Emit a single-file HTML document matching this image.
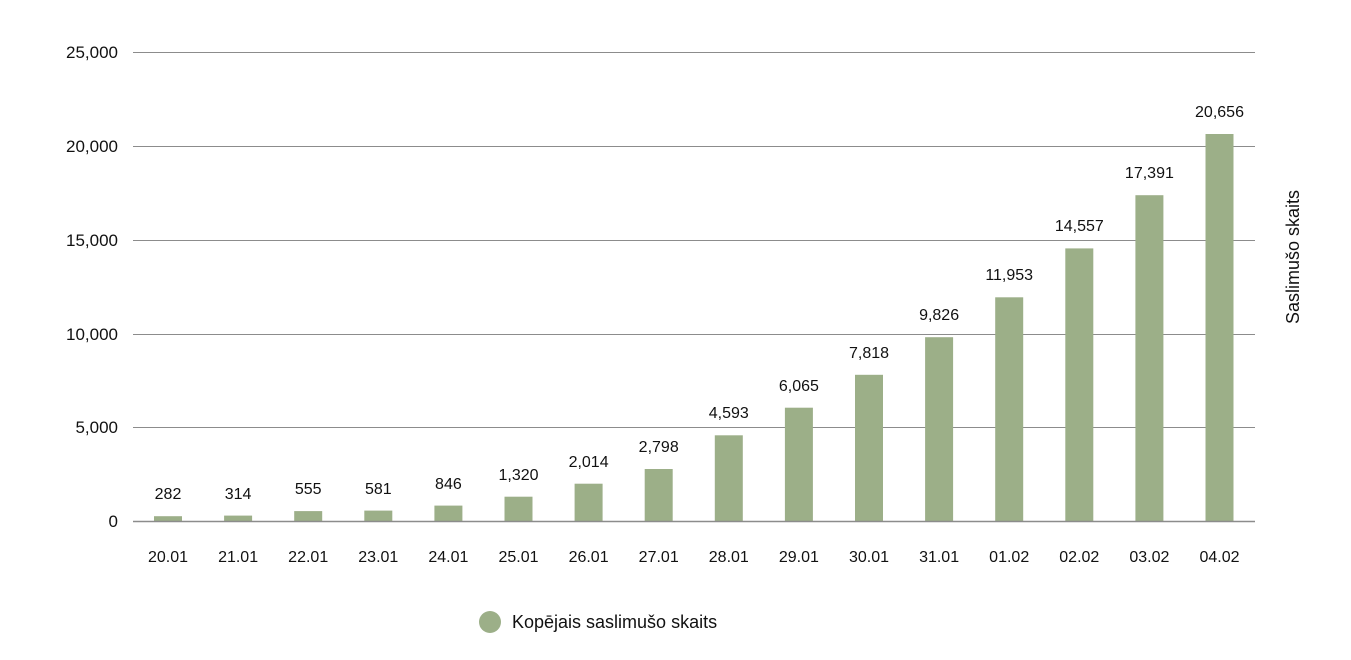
<!DOCTYPE html>
<html><head><meta charset="utf-8"><style>
body{margin:0;background:#fff;}
svg{display:block;font-family:"Liberation Sans",sans-serif;}
</style></head><body>
<svg width="1351" height="660" viewBox="0 0 1351 660">
<g stroke="#8c8c8c" stroke-width="1">
<line x1="133" y1="52.5" x2="1255" y2="52.5"/>
<line x1="133" y1="146.5" x2="1255" y2="146.5"/>
<line x1="133" y1="240.5" x2="1255" y2="240.5"/>
<line x1="133" y1="334.5" x2="1255" y2="334.5"/>
<line x1="133" y1="427.5" x2="1255" y2="427.5"/>
</g>
<g font-size="17" fill="#111" text-anchor="end">
<text x="118" y="58">25,000</text>
<text x="118" y="152">20,000</text>
<text x="118" y="246">15,000</text>
<text x="118" y="340">10,000</text>
<text x="118" y="433">5,000</text>
<text x="118" y="527">0</text>
</g>
<g fill="#9caf88">
<rect x="154" y="516.2" width="28" height="5.3"/>
<rect x="224.1" y="515.6" width="28" height="5.9"/>
<rect x="294.2" y="511.1" width="28" height="10.4"/>
<rect x="364.3" y="510.6" width="28" height="10.9"/>
<rect x="434.4" y="505.6" width="28" height="15.9"/>
<rect x="504.5" y="496.7" width="28" height="24.8"/>
<rect x="574.6" y="483.7" width="28" height="37.8"/>
<rect x="644.7" y="469.0" width="28" height="52.5"/>
<rect x="714.8" y="435.3" width="28" height="86.2"/>
<rect x="784.9" y="407.7" width="28" height="113.8"/>
<rect x="855" y="374.8" width="28" height="146.7"/>
<rect x="925.1" y="337.2" width="28" height="184.3"/>
<rect x="995.2" y="297.3" width="28" height="224.2"/>
<rect x="1065.3" y="248.4" width="28" height="273.1"/>
<rect x="1135.4" y="195.2" width="28" height="326.3"/>
<rect x="1205.5" y="134.0" width="28" height="387.5"/>
</g>
<line x1="133" y1="521.5" x2="1255" y2="521.5" stroke="#8c8c8c" stroke-width="1.5"/>
<g font-size="16" fill="#111" text-anchor="middle">
<text x="168" y="499">282</text>
<text x="238.1" y="499">314</text>
<text x="308.2" y="494">555</text>
<text x="378.3" y="494">581</text>
<text x="448.4" y="489">846</text>
<text x="518.5" y="480">1,320</text>
<text x="588.6" y="467">2,014</text>
<text x="658.7" y="452">2,798</text>
<text x="728.8" y="418">4,593</text>
<text x="798.9" y="391">6,065</text>
<text x="869" y="358">7,818</text>
<text x="939.1" y="320">9,826</text>
<text x="1009.2" y="280">11,953</text>
<text x="1079.3" y="231">14,557</text>
<text x="1149.4" y="178">17,391</text>
<text x="1219.5" y="117">20,656</text>
<text x="168" y="562">20.01</text>
<text x="238.1" y="562">21.01</text>
<text x="308.2" y="562">22.01</text>
<text x="378.3" y="562">23.01</text>
<text x="448.4" y="562">24.01</text>
<text x="518.5" y="562">25.01</text>
<text x="588.6" y="562">26.01</text>
<text x="658.7" y="562">27.01</text>
<text x="728.8" y="562">28.01</text>
<text x="798.9" y="562">29.01</text>
<text x="869" y="562">30.01</text>
<text x="939.1" y="562">31.01</text>
<text x="1009.2" y="562">01.02</text>
<text x="1079.3" y="562">02.02</text>
<text x="1149.4" y="562">03.02</text>
<text x="1219.5" y="562">04.02</text>
</g>
<text transform="translate(1299,257) rotate(-90)" font-size="18" fill="#111" text-anchor="middle">Saslimušo skaits</text>
<circle cx="490" cy="622" r="11" fill="#9caf88"/>
<text x="512" y="628" font-size="18" fill="#111">Kopējais saslimušo skaits</text>
</svg>
</body></html>
